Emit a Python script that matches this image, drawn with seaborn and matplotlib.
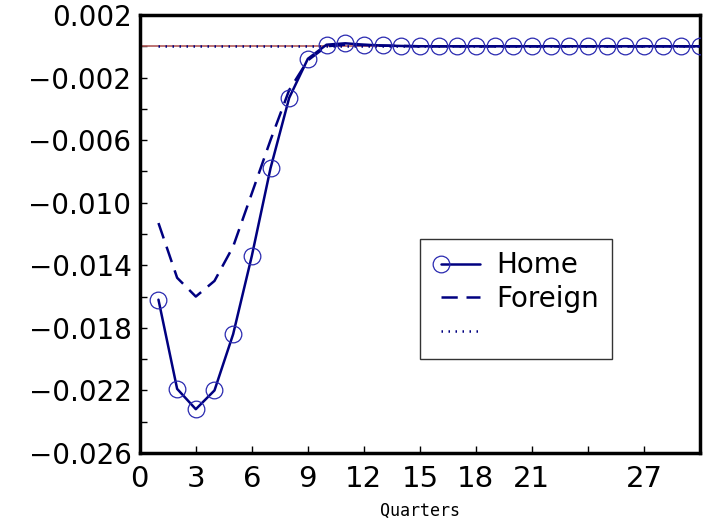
import numpy as np
import pandas as pd
import matplotlib
matplotlib.use("Agg")
import matplotlib.pyplot as plt
from matplotlib.lines import Line2D
from matplotlib.legend_handler import HandlerLine2D
import seaborn as sns

# impulse responses, quarters 1..30
quarters = list(range(1, 31))
home = [-0.0162, -0.0219, -0.0232, -0.0220, -0.0184, -0.0134, -0.0078, -0.0033,
        -0.0008, 0.0001, 0.00019, 0.0001, 0.00005, 0.00002, 0.0, 0.0, 0.0, 0.0,
        0.0, 0.0, 0.0, 0.0, 0.0, 0.0, 0.0, 0.0, 0.0, 0.0, 0.0, 0.0]
foreign = [-0.0113, -0.0148, -0.0160, -0.0150, -0.0128, -0.0094, -0.0060, -0.0028,
           -0.0009, 0.0, 0.0001, 0.00008, 0.00004, 0.00002, 0.0, 0.0, 0.0, 0.0,
           0.0, 0.0, 0.0, 0.0, 0.0, 0.0, 0.0, 0.0, 0.0, 0.0, 0.0, 0.0]
steady = [0.0] * 30

xtick_vals = [0, 3, 6, 9, 12, 15, 18, 21, 24, 27, 30]
xtick_labels = ["0", "3", "6", "9", "12", "15", "18", "21", "", "27", ""]
ytick_vals = [0.002, -0.002, -0.006, -0.010, -0.014, -0.018, -0.022, -0.026]
ytick_labels = ["0.002", "\u22120.002", "\u22120.006", "\u22120.010",
                "\u22120.014", "\u22120.018", "\u22120.022", "\u22120.026"]

df = pd.DataFrame({"q": quarters, "home": home, "foreign": foreign, "zero": steady})


# legend marker only at the left end of the line
class MarkerFirst(HandlerLine2D):
    def create_artists(self, legend, orig_handle, xdescent, ydescent,
                       width, height, fontsize, trans):
        arts = super().create_artists(legend, orig_handle, xdescent, ydescent,
                                      width, height, fontsize, trans)
        arts[0].set_markevery([0])
        return arts


sns.set_style("ticks")
plt.rcParams['font.family'] = ['DejaVu Sans']
plt.rcParams['text.color'] = 'black'
plt.rcParams['xtick.color'] = 'black'
plt.rcParams['ytick.color'] = 'black'

navy = "#000080"
fig = plt.figure(figsize=(7.06, 5.24), dpi=100)
ax = fig.add_axes([0.198, 0.1355, 0.7935, 0.8359])

ax.axhline(0, color="#b05a5a", lw=1.2, zorder=1)
sns.lineplot(data=df, x="q", y="zero", ax=ax, color=navy, lw=1.8,
             linestyle=(0, (0.6, 2.2)), label=" ", zorder=2)
sns.lineplot(data=df, x="q", y="foreign", ax=ax, color=navy, lw=1.8,
             dashes=False, label="Foreign", zorder=3)
ax.lines[-1].set_dashes((6.5, 3.5))
sns.lineplot(data=df, x="q", y="home", ax=ax, color=navy, lw=1.8,
             marker="o", markersize=12, markerfacecolor="none",
             markeredgecolor="#2a2ab0", markeredgewidth=0.9,
             label="Home", zorder=4)

ax.set_xlim(0, 30)
ax.set_ylim(-0.026, 0.002)
ax.set_xticks(xtick_vals)
ax.set_xticklabels(xtick_labels)
ax.set_yticks(ytick_vals)
ax.set_yticklabels(ytick_labels)
ax.set_yticks(np.arange(-0.024, 0.0015, 0.004), minor=True)
ax.tick_params(axis="both", which="both", direction="in", length=5, width=1,
               labelsize=20, color="black", labelcolor="black")
ax.tick_params(axis="y", pad=6)
ax.tick_params(axis="x", pad=9, labelsize=21)
for s in ax.spines.values():
    s.set_visible(True)
    s.set_linewidth(2.5)
    s.set_color("black")

ax.set_xlabel("Quarters", fontsize=12, family="DejaVu Sans Mono", labelpad=6,
              color="black")
ax.set_ylabel("")

h, l = ax.get_legend_handles_labels()
order = [l.index("Home"), l.index("Foreign"), l.index(" ")]
leg = ax.legend([h[i] for i in order], [l[i] for i in order],
                loc="upper left", bbox_to_anchor=(0.5, 0.4886),
                fontsize=20, frameon=True, fancybox=False, edgecolor="black",
                numpoints=2, handlelength=2.0, handletextpad=0.3,
                borderpad=0.45, labelspacing=0.2, borderaxespad=0,
                handler_map={Line2D: MarkerFirst()})
leg.get_frame().set_linewidth(1.0)

fig.savefig("out.png", dpi=100)
